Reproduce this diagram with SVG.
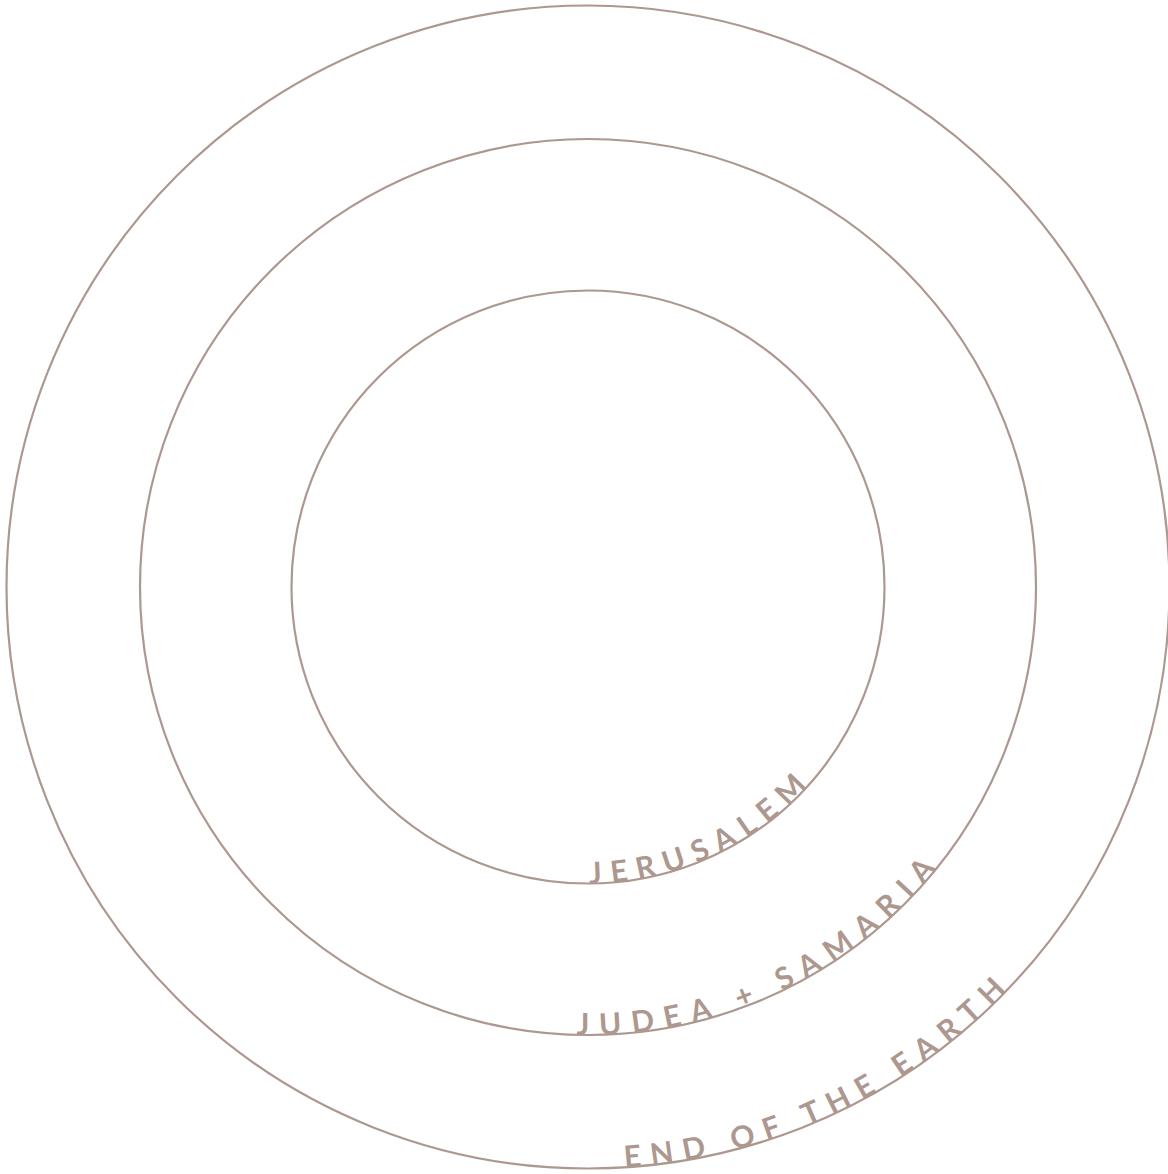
<svg xmlns="http://www.w3.org/2000/svg" width="1168" height="1174" viewBox="0 0 1168 1174">
<defs>
<style>
.ring{fill:none;stroke:#ad9890;stroke-width:2.2}
.lbl{font-family:Lato,"Open Sans","Liberation Sans",sans-serif;font-weight:bold;font-size:30px;letter-spacing:10px;fill:#ad9890}
</style>
<path id="p1" d="M291.5,587 A296.5,296.5 0 0 0 588,883.5 A296.5,296.5 0 0 0 884.5,587 A296.5,296.5 0 0 0 588,290.5"/>
<path id="p2" d="M140,587 A448,448 0 0 0 588,1035 A448,448 0 0 0 1036,587 A448,448 0 0 0 588,139"/>
<path id="p3" d="M6.5,587 A581.5,581.5 0 0 0 588,1168.5 A581.5,581.5 0 0 0 1169.5,587 A581.5,581.5 0 0 0 588,5.5"/>
</defs>
<rect width="1168" height="1174" fill="#fff"/>
<g id="outer"><circle class="ring" cx="588" cy="587" r="581.5"/><text class="lbl"><textPath href="#p3" startOffset="950">END OF THE EARTH</textPath></text></g>
<g id="middle"><circle class="ring" cx="588" cy="587" r="448"/><text class="lbl" style="letter-spacing:10.6px"><textPath href="#p2" startOffset="692">JUDEA + SAMARIA</textPath></text></g>
<g id="inner"><circle class="ring" cx="588" cy="587" r="296.5"/><text class="lbl" style="letter-spacing:9.5px"><textPath href="#p1" startOffset="467">JERUSALEM</textPath></text></g>
<g id="connectors"></g>
</svg>
